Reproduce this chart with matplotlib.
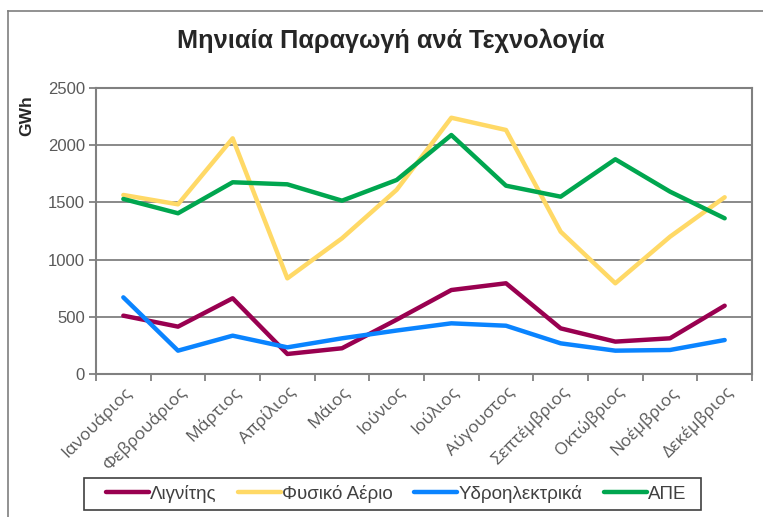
import matplotlib
matplotlib.use("Agg")
import matplotlib.pyplot as plt
import numpy as np
from matplotlib.lines import Line2D
from matplotlib.patches import Rectangle

plt.rcParams['font.family'] = ['Liberation Sans', 'DejaVu Sans']

months = ["Ιανουάριος", "Φεβρουάριος", "Μάρτιος", "Απρίλιος", "Μάιος", "Ιούνιος",
          "Ιούλιος", "Αύγουστος", "Σεπτέμβριος", "Οκτώβριος", "Νοέμβριος", "Δεκέμβριος"]
lignite = [510, 414, 662, 175, 225, 475, 734, 793, 399, 283, 312, 597]
gas = [1565, 1483, 2060, 836, 1186, 1610, 2240, 2133, 1244, 793, 1200, 1545]
hydro = [670, 204, 335, 233, 312, 380, 443, 422, 268, 204, 210, 297]
res = [1530, 1405, 1676, 1658, 1515, 1696, 2089, 1646, 1550, 1877, 1594, 1361]

series = [("Λιγνίτης", lignite, "#990050"),
          ("Φυσικό Αέριο", gas, "#FFD966"),
          ("Υδροηλεκτρικά", hydro, "#0A84FF"),
          ("ΑΠΕ", res, "#00A64F")]

W, H = 763, 517
fig = plt.figure(figsize=(W / 100, H / 100), dpi=100)
ax = fig.add_axes([96 / W, 1 - 374 / H, (752 - 96) / W, (374 - 88) / H])

x = np.arange(len(months))
for name, vals, col in series:
    ax.plot(x, vals, color=col, lw=3.2, label=name, solid_capstyle='round', solid_joinstyle='round')

ax.set_xlim(-0.5, len(months) - 0.5)
ax.set_ylim(0, 2500)
ax.set_yticks([0, 500, 1000, 1500, 2000, 2500])
ax.yaxis.grid(True, color="#808080", lw=1.3)
ax.set_axisbelow(True)
for s in ax.spines.values():
    s.set_color("#808080")
    s.set_linewidth(1.5)

ax.set_xticks(np.arange(-0.5, len(months), 1.0))
ax.set_xticklabels([])
ax.set_xticks(x, minor=True)
ax.set_xticklabels(months, minor=True, rotation=45, ha='right', rotation_mode='anchor',
                   fontsize=12.5, color="#595959", family=['Open Sans', 'DejaVu Sans'])
ax.tick_params(axis='x', which='minor', length=0, pad=7)
ax.tick_params(axis='x', which='major', length=5, width=1.3, color="#808080")
ax.tick_params(axis='y', length=5, width=1.3, color="#808080", labelsize=12, labelcolor="#595959", pad=3)

fig.text(391 / W, 1 - 41 / H, "Μηνιαία Παραγωγή ανά Τεχνολογία", ha='center', va='center',
         fontsize=18.2, fontweight='bold', color="#262626")
fig.text(27 / W, 1 - 116 / H, "GWh", rotation=90, ha='center', va='center',
         fontsize=12.5, fontweight='bold', color="#262626")

# outer chart border
fig.add_artist(Line2D([8 / W, 8 / W], [0, 1 - 11 / H], color="#7f7f7f", lw=1.2, transform=fig.transFigure))
fig.add_artist(Line2D([8 / W, 1], [1 - 11 / H, 1 - 11 / H], color="#7f7f7f", lw=1.2, transform=fig.transFigure))

# legend frame
fig.add_artist(Rectangle((84 / W, 1 - 510 / H), (701 - 84) / W, 32 / H, transform=fig.transFigure,
                         fill=False, edgecolor="#404040", lw=1.2))
leg = fig.legend(loc='center', bbox_to_anchor=(396 / W, 1 - 494 / H), ncol=4, frameon=False,
                 fontsize=13.5, handlelength=2.3, handletextpad=0.05, columnspacing=1.15,
                 borderpad=0.2, borderaxespad=0)
for t in leg.get_texts():
    t.set_color("#404040")

fig.savefig("out.png", dpi=100)
